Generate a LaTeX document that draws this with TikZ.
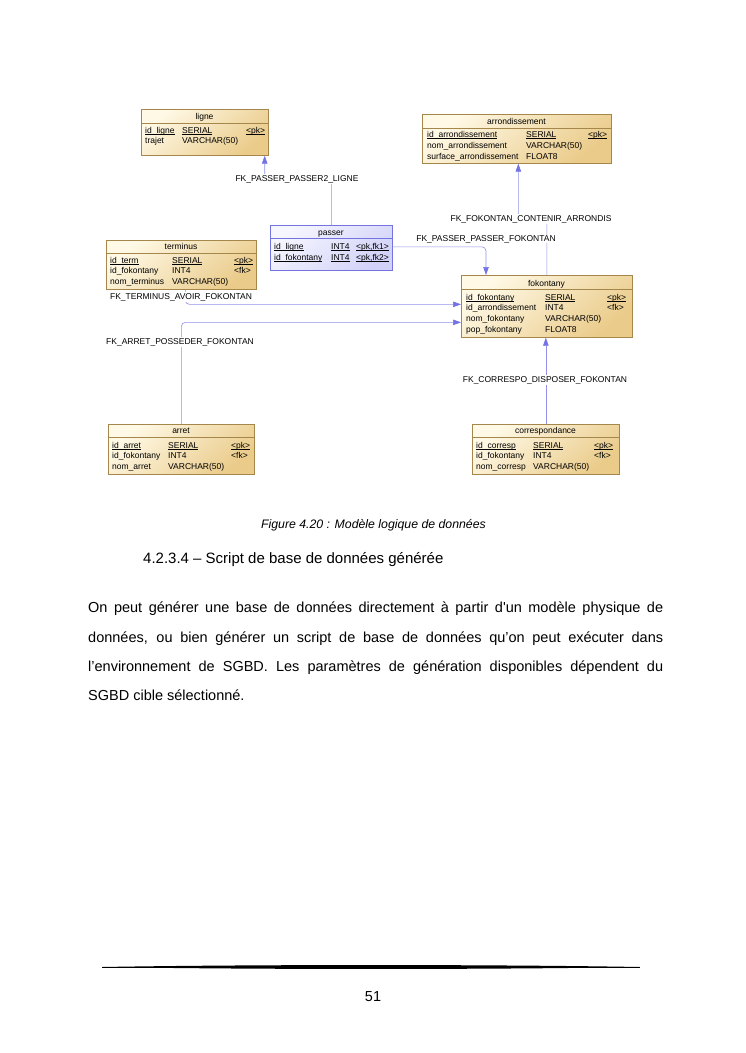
\documentclass[tikz,border=0pt]{standalone}
\usepackage{fontspec}
\setmainfont{Liberation Sans}
\newfontfamily\rawsans[Ligatures=TeXOff]{Liberation Sans}
\usetikzlibrary{arrows.meta,calc}
\definecolor{tabborder}{RGB}{165,135,75}
\definecolor{tabtop}{RGB}{255,249,230}
\definecolor{tabbot}{RGB}{234,203,138}
\definecolor{pasborder}{RGB}{115,115,225}
\definecolor{pastop}{RGB}{246,246,255}
\definecolor{pasbot}{RGB}{210,210,248}
\definecolor{conn}{RGB}{145,145,235}
\definecolor{arrowc}{RGB}{115,115,230}
\newcommand\dgfont{\fontsize{8.5pt}{10pt}\selectfont}
\newcommand\ul[1]{\leavevmode\setbox0\hbox{#1}\rlap{\rule[-1.2pt]{\wd0}{0.5pt}}\box0}
\newcommand\trow[8]{%
  \node[cell] (#1-a) at (#3,#2) {#4};
  \node[cell] (#1-b) at (#5,#2) {#6};
  \node[cell] (#1-c) at (#7,#2) {#8};}
\tikzset{
  tbl/.style={draw=tabborder, line width=0.7pt, shading=axis, top color=tabtop, bottom color=tabbot, shading angle=40, anchor=north west, inner sep=0pt},
  ptbl/.style={draw=pasborder, line width=0.7pt, shading=axis, top color=pastop, bottom color=pasbot, shading angle=40, anchor=north west, inner sep=0pt},
  cell/.style={anchor=base west, inner sep=0pt, font=\dgfont},
  ttl/.style={anchor=base, inner sep=0pt, font=\dgfont},
  sep/.style={draw=tabborder, line width=0.7pt},
  psep/.style={draw=pasborder, line width=0.7pt},
  fk/.style={draw=conn, line width=0.6pt, rounded corners=4pt, -{Triangle[length=8pt,width=5.5pt,fill=arrowc,color=arrowc]}},
  fklbl/.style={fill=white, inner sep=1pt, font=\dgfont},
  para/.style={anchor=base west, inner sep=0pt, font=\fontsize{14.5pt}{17pt}\selectfont}
}
\begin{document}
\begin{tikzpicture}[x=1pt,y=-1pt]
\useasboundingbox[fill=white] (0,0) rectangle (745,1053);

% ---------- tables ----------
\node[tbl, minimum width=127pt, minimum height=46pt] (ligne) at (141,109) {};
\node[tbl, minimum width=189pt, minimum height=49pt] (arrondissement) at (422,114) {};
\node[tbl, minimum width=150pt, minimum height=49pt] (terminus) at (106,240) {};
\node[ptbl, minimum width=122pt, minimum height=45pt] (passer) at (270,225) {};
\node[tbl, minimum width=171pt, minimum height=62pt] (fokontany) at (461,275) {};
\node[tbl, minimum width=146pt, minimum height=50pt] (arret) at (108,424) {};
\node[tbl, minimum width=147pt, minimum height=50pt] (correspondance) at (472,424) {};

% separators
\draw[sep] ([yshift=-14pt]ligne.north west) -- ([yshift=-14pt]ligne.north east);
\draw[sep] ([yshift=-14pt]arrondissement.north west) -- ([yshift=-14pt]arrondissement.north east);
\draw[sep] ([yshift=-13pt]terminus.north west) -- ([yshift=-13pt]terminus.north east);
\draw[psep] ([yshift=-13pt]passer.north west) -- ([yshift=-13pt]passer.north east);
\draw[sep] ([yshift=-14pt]fokontany.north west) -- ([yshift=-14pt]fokontany.north east);
\draw[sep] ([yshift=-13pt]arret.north west) -- ([yshift=-13pt]arret.north east);
\draw[sep] ([yshift=-13pt]correspondance.north west) -- ([yshift=-13pt]correspondance.north east);

% titles
\node[ttl] (ligne-t) at (204.5,119) {ligne};
\node[ttl] (arrondissement-t) at (516.5,124) {arrondissement};
\node[ttl] (terminus-t) at (181,249) {terminus};
\node[ttl] (passer-t) at (331,235) {passer};
\node[ttl] (fokontany-t) at (546.5,286) {fokontany};
\node[ttl] (arret-t) at (181,433) {arret};
\node[ttl] (correspondance-t) at (545.5,433) {correspondance};

% rows
\trow{ligne-r1}{133}{145}{\ul{id\_ligne}}{182}{\ul{SERIAL}}{246}{\ul{<pk>}}
\trow{ligne-r2}{143}{145}{trajet}{182}{VARCHAR(50)}{246}{}

\trow{arr-r1}{137}{427}{\ul{id\_arrondissement}}{526}{\ul{SERIAL}}{588}{\ul{<pk>}}
\trow{arr-r2}{148}{427}{nom\_arrondissement}{526}{VARCHAR(50)}{588}{}
\trow{arr-r3}{159}{427}{surface\_arrondissement}{526}{FLOAT8}{588}{}

\trow{ter-r1}{263}{110}{\ul{id\_term}}{172}{\ul{SERIAL}}{234}{\ul{<pk>}}
\trow{ter-r2}{273}{110}{id\_fokontany}{172}{INT4}{234}{<fk>}
\trow{ter-r3}{284}{110}{nom\_terminus}{172}{VARCHAR(50)}{234}{}

\trow{pas-r1}{249}{274}{\ul{id\_ligne}}{331}{\ul{INT4}}{356}{\ul{<pk,fk1>}}
\trow{pas-r2}{260}{274}{\ul{id\_fokontany}}{331}{\ul{INT4}}{356}{\ul{<pk,fk2>}}

\trow{fok-r1}{300}{466}{\ul{id\_fokontany}}{545}{\ul{SERIAL}}{607}{\ul{<pk>}}
\trow{fok-r2}{310}{466}{id\_arrondissement}{545}{INT4}{607}{<fk>}
\trow{fok-r3}{321}{466}{nom\_fokontany}{545}{VARCHAR(50)}{607}{}
\trow{fok-r4}{332}{466}{pop\_fokontany}{545}{FLOAT8}{607}{}

\trow{arr2-r1}{448}{112}{\ul{id\_arret}}{168}{\ul{SERIAL}}{231}{\ul{<pk>}}
\trow{arr2-r2}{458}{112}{id\_fokontany}{168}{INT4}{231}{<fk>}
\trow{arr2-r3}{469}{112}{nom\_arret}{168}{VARCHAR(50)}{231}{}

\trow{cor-r1}{448}{476}{\ul{id\_corresp}}{533}{\ul{SERIAL}}{594}{\ul{<pk>}}
\trow{cor-r2}{458}{476}{id\_fokontany}{533}{INT4}{594}{<fk>}
\trow{cor-r3}{469}{476}{nom\_corresp}{533}{VARCHAR(50)}{594}{}

% ---------- connectors ----------
\coordinate (jPL) at (0,179);
\coordinate (jFA) at (0,219);
\draw[fk] (passer.north) -- (passer.north |- jPL) -| ([xshift=-4pt]ligne.south east);
\draw[fk] (fokontany.north) -- (fokontany.north |- jFA) -| ([xshift=1.5pt]arrondissement.south);
\draw[fk] ([yshift=1pt]passer.east) -| ([xshift=25pt]fokontany.north west);
\draw[fk] ([xshift=4pt]terminus.south) |- ([yshift=2pt]fokontany.west);
\draw[fk] (arret.north) |- ([yshift=-16pt]fokontany.west);
\draw[fk] (correspondance.north) -- (correspondance.north |- fokontany.south);

% labels
\node[fklbl] (lPL) at (297,179) {FK\_PASSER\_PASSER2\_LIGNE};
\node[fklbl] (lFA) at (531,219) {FK\_FOKONTAN\_CONTENIR\_ARRONDIS};
\node[fklbl, inner sep=0.5pt] (lPF) at (486,239) {FK\_PASSER\_PASSER\_FOKONTAN};
\node[fklbl] (lTF) at (181,297) {FK\_TERMINUS\_AVOIR\_FOKONTAN};
\node[fklbl] (lAF) at (180,342) {FK\_ARRET\_POSSEDER\_FOKONTAN};
\node[fklbl] (lCF) at (545,380) {FK\_CORRESPO\_DISPOSER\_FOKONTAN};

% ---------- text ----------
\node[anchor=base, inner sep=0pt, font=\itshape\fontsize{12.3pt}{15pt}\selectfont] (caption) at (373.5,528) {Figure 4.20 : Modèle logique de données};
\node[anchor=base west, inner sep=0pt, font=\fontsize{15pt}{18pt}\selectfont] (heading) at (143,563) {4.2.3.4 – Script de base de données générée};
\node[para] (p1) at (88,612) {\makebox[575pt][s]{On peut générer une base de données directement à partir d{\rawsans '}un modèle physique de}};
\node[para] (p2) at (88,642) {\makebox[575pt][s]{données, ou bien générer un script de base de données qu’on peut exécuter dans}};
\node[para] (p3) at (88,671) {\makebox[575pt][s]{l’environnement de SGBD. Les paramètres de génération disponibles dépendent du}};
\node[para] (p4) at (88,700) {SGBD cible sélectionné.};

% footer rule
\fill (102,967) .. controls (250,964.4) and (492,964.4) .. (640,967) .. controls (492,969.6) and (250,969.6) .. (102,967) -- cycle;
\draw[line width=0.5pt] (102,967) -- (640,967);
\node[anchor=base, inner sep=0pt, font=\fontsize{14.5pt}{17pt}\selectfont] (pagenum) at (373,1001) {51};
\end{tikzpicture}
\end{document}
